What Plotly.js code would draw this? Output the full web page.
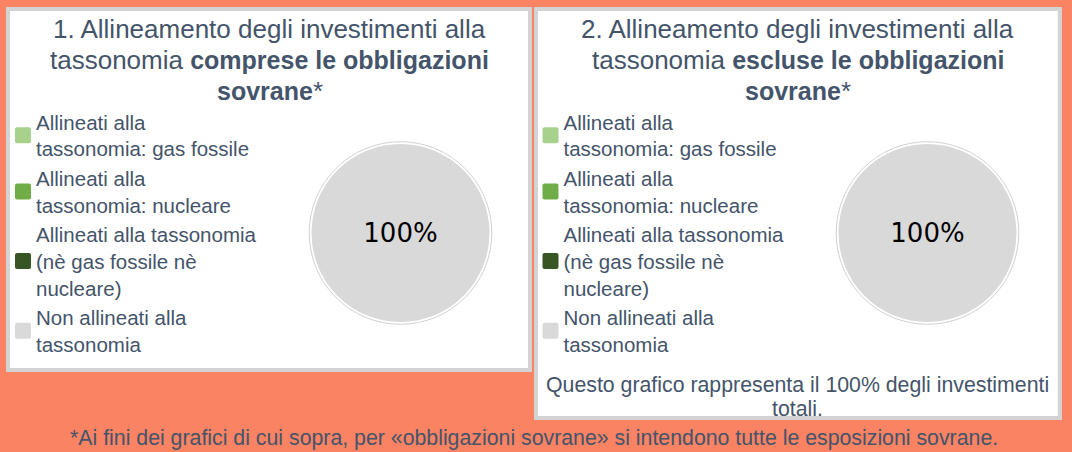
<!DOCTYPE html>
<html>
<head>
<meta charset="utf-8">
<script src="https://cdn.plot.ly/plotly-3.0.1.min.js"></script>
<style>
  html, body { margin: 0; padding: 0; background: #FA8364; }
  #chart { width: 1072px; height: 452px; }
</style>
</head>
<body>
<div id="chart"></div>
<script>
// ---- data ----
const categories = [
  'Allineati alla tassonomia: gas fossile',
  'Allineati alla tassonomia: nucleare',
  'Allineati alla tassonomia (nè gas fossile nè nucleare)',
  'Non allineati alla tassonomia'
];
const legendLabels = [
  'Allineati alla<br>tassonomia: gas fossile',
  'Allineati alla<br>tassonomia: nucleare',
  'Allineati alla tassonomia<br>(nè gas fossile nè<br>nucleare)',
  'Non allineati alla<br>tassonomia'
];
const valuesInclSovereign = [0, 0, 0, 100];
const valuesExclSovereign = [0, 0, 0, 100];
const sliceColors = ['#A9D18E', '#70AD47', '#375623', '#D9D9D9'];

const title1Lines = ['1. Allineamento degli investimenti alla', 'tassonomia <b><span style="font-size:25px">comprese le obbligazioni</span></b>', '<b><span style="font-size:25px">sovrane</span></b>*'];
const title2Lines = ['2. Allineamento degli investimenti alla', 'tassonomia <b><span style="font-size:25px">escluse le obbligazioni</span></b>', '<b><span style="font-size:25px">sovrane</span></b>*'];
const captionLines = ['Questo grafico rappresenta il 100% degli investimenti', 'totali.'];
const footnote = '*Ai fini dei grafici di cui sopra, per «obbligazioni sovrane» si intendono tutte le esposizioni sovrane.';

// ---- layout helpers (pixel -> paper) ----
const W = 1072, H = 452;
const px = x => x / W;
const py = y => 1 - y / H;
const TXT = '#44546A';
const FONT = 'Liberation Sans, Arial, sans-serif';

function pieTrace(values, cx, cy, r, legendId, group) {
  return {
    type: 'pie',
    labels: legendLabels,
    values: values,
    sort: false,
    direction: 'clockwise',
    marker: { colors: sliceColors, line: { color: '#FFFFFF', width: 2 } },
    texttemplate: values.map(v => v > 0 ? '%{percent}' : ''),
    textposition: 'inside',
    insidetextorientation: 'horizontal',
    insidetextfont: { family: 'DejaVu Sans, Verdana, sans-serif', size: 26, color: '#000000' },
    hoverinfo: 'label+percent',
    domain: { x: [px(cx - r), px(cx + r)], y: [py(cy + r), py(cy - r)] },
    legend: legendId,
    legendgroup: group
  };
}

const data = [
  pieTrace(valuesInclSovereign, 400.5, 233, 90, 'legend', 'incl'),
  pieTrace(valuesExclSovereign, 927.5, 233, 90, 'legend2', 'excl')
];

function panel(x0, y0, x1, y1) {
  return { type: 'rect', xref: 'paper', yref: 'paper', layer: 'below',
    x0: px(x0), x1: px(x1), y0: py(y1), y1: py(y0),
    fillcolor: '#FFFFFF', line: { color: '#D3D3D3', width: 4 } };
}
function ring(cx, cy, r) {
  return { type: 'circle', xref: 'paper', yref: 'paper', layer: 'above',
    x0: px(cx - r), x1: px(cx + r), y0: py(cy + r), y1: py(cy - r),
    line: { color: '#BDBDBD', width: 0.7 } };
}

const annotations = [];
function addLines(lines, cx, yCenters, size) {
  lines.forEach((t, i) => annotations.push({
    xref: 'paper', yref: 'paper', x: px(cx), y: py(yCenters[i]),
    xanchor: 'center', yanchor: 'middle', showarrow: false,
    text: t, font: { family: FONT, size: size, color: TXT }
  }));
}
addLines(title1Lines, 269.5, [29, 60, 91], 26);
addLines(title2Lines, 797.5, [29, 60, 91], 26);
addLines(captionLines, 797.5, [384.5, 408.5], 21.3);
addLines([footnote], 534, [437.5], 21.3);

const legendStyle = (x) => ({
  x: px(x), xanchor: 'left', y: py(233), yanchor: 'middle',
  bgcolor: 'rgba(0,0,0,0)', borderwidth: 0,
  font: { family: FONT, size: 20.5, color: TXT },
  itemclick: false, itemdoubleclick: false, traceorder: 'normal'
});

const layout = {
  width: W, height: H,
  margin: { l: 0, r: 0, t: 0, b: 0, autoexpand: false },
  paper_bgcolor: '#FA8364',
  showlegend: true,
  legend: legendStyle(-4),
  legend2: legendStyle(523.5),
  shapes: [panel(8, 9, 530, 370), panel(536, 9, 1060, 418), ring(400.5, 233, 91.3), ring(927.5, 233, 91.3)],
  annotations: annotations
};

Plotly.newPlot('chart', data, layout, { displayModeBar: false }).then(gd => {
  // legend swatches: larger rounded squares, closer to the text
  gd.querySelectorAll('.legendpoints path').forEach(p => {
    const tr = p.getAttribute('transform') || '';
    const m = tr.match(/translate\(\s*([-\d.]+)/);
    const tx = m ? parseFloat(m[1]) : 0;
    p.setAttribute('d', 'M-8,-6Q-8,-8 -6,-8H6Q8,-8 8,-6V6Q8,8 6,8H-6Q-8,8 -8,6Z');
    p.setAttribute('transform', 'translate(' + (tx + 7) + ',0)');
    p.style.strokeWidth = '0px';
  });
});
</script>
</body>
</html>
